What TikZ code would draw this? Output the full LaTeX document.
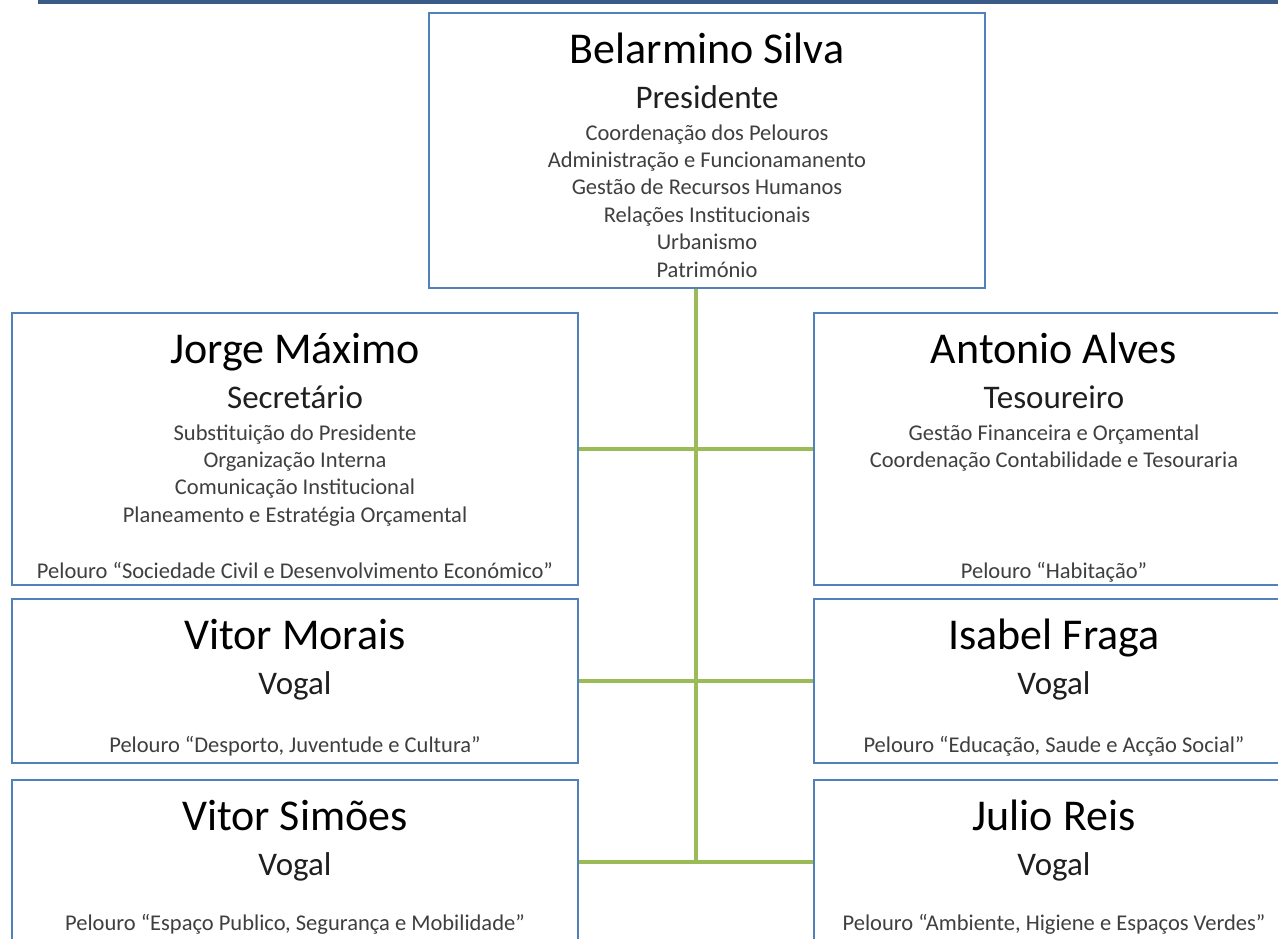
\documentclass[tikz,border=0pt]{standalone}
\usepackage{fontspec}
\setmainfont{Carlito}
\usetikzlibrary{backgrounds}
\definecolor{boxblue}{HTML}{4F81BD}
\definecolor{linegreen}{HTML}{9BBB59}
\definecolor{barblue}{HTML}{3A5A87}
\definecolor{itemgray}{HTML}{3F3F3F}
\definecolor{rolegray}{HTML}{1F1F1F}
\begin{document}
\begin{tikzpicture}[x=1pt,y=-1pt,
  box/.style={draw=boxblue, line width=2.2pt, fill=white, rectangle, inner sep=0pt},
  conn/.style={draw=linegreen, line width=3.6pt},
  pname/.style={anchor=base, inner sep=0pt, text=black, font=\fontsize{44}{50}\selectfont},
  prole/.style={anchor=base, inner sep=0pt, text=rolegray, font=\fontsize{33}{38}\selectfont},
  item/.style={anchor=base, inner sep=0pt, text=itemgray, font=\fontsize{22.5}{27}\selectfont}]
\clip (0,0) rectangle (1278,938);

% boxes
\node[box, minimum width=556pt, minimum height=275pt] (top) at (707,150.5) {};
\node[box, minimum width=566pt, minimum height=272pt] (jorge) at (295,449) {};
\node[box, minimum width=480pt, minimum height=272pt] (antonio) at (1054,449) {};
\node[box, minimum width=566pt, minimum height=164pt] (vmorais) at (295,681) {};
\node[box, minimum width=480pt, minimum height=164pt] (isabel) at (1054,681) {};
\node[box, minimum width=566pt, minimum height=164pt] (vsimoes) at (295,862) {};
\node[box, minimum width=480pt, minimum height=164pt] (julio) at (1054,862) {};

% top box text
\node[pname] (n-top) at (707,63) {Belarmino Silva};
\node[prole] (r-top) at (707,108) {Presidente};
\foreach \t [count=\i] in {Coordenação dos Pelouros,Administração e Funcionamanento,Gestão de Recursos Humanos,Relações Institucionais,Urbanismo,Património}
  \node[item] (i-top-\i) at (707,{140+27.4*(\i-1)}) {\t};

% Jorge
\node[pname] (n-jorge) at (295,363) {Jorge Máximo};
\node[prole] (r-jorge) at (295,408) {Secretário};
\foreach \t [count=\i] in {Substituição do Presidente,Organização Interna,Comunicação Institucional,Planeamento e Estratégia Orçamental}
  \node[item] (i-jorge-\i) at (295,{440+27.4*(\i-1)}) {\t};
\node[item] (p-jorge) at (295,578) {Pelouro “Sociedade Civil e Desenvolvimento Económico”};

% Antonio
\node[pname] (n-antonio) at (1054,363) {Antonio Alves};
\node[prole] (r-antonio) at (1054,408) {Tesoureiro};
\foreach \t [count=\i] in {Gestão Financeira e Orçamental,Coordenação Contabilidade e Tesouraria}
  \node[item] (i-antonio-\i) at (1054,{440+27.4*(\i-1)}) {\t};
\node[item] (p-antonio) at (1054,578) {Pelouro “Habitação”};

% Vitor Morais
\node[pname] (n-vmorais) at (295,649) {Vitor Morais};
\node[prole] (r-vmorais) at (295,694) {Vogal};
\node[item] (p-vmorais) at (295,752) {Pelouro “Desporto, Juventude e Cultura”};

% Isabel
\node[pname] (n-isabel) at (1054,649) {Isabel Fraga};
\node[prole] (r-isabel) at (1054,694) {Vogal};
\node[item] (p-isabel) at (1054,752) {Pelouro “Educação, Saude e Acção Social”};

% Vitor Simoes
\node[pname] (n-vsimoes) at (295,830) {Vitor Simões};
\node[prole] (r-vsimoes) at (295,875) {Vogal};
\node[item] (p-vsimoes) at (295,930) {Pelouro “Espaço Publico, Segurança e Mobilidade”};

% Julio
\node[pname] (n-julio) at (1054,830) {Julio Reis};
\node[prole] (r-julio) at (1054,875) {Vogal};
\node[item] (p-julio) at (1054,930) {Pelouro “Ambiente, Higiene e Espaços Verdes”};

% connectors
\coordinate (trunktop) at (696,288);
\coordinate (trunkbot) at (trunktop |- vsimoes.east);
\begin{pgfonlayer}{background}
  \fill[white] (0,0) rectangle (1278,938);
  \fill[barblue] (38,0) rectangle (1278,4);
  \draw[conn] (trunktop) -- (trunkbot);
  \draw[conn] (jorge.east) -- (antonio.west);
  \draw[conn] (vmorais.east) -- (isabel.west);
  \draw[conn] (vsimoes.east) -- (julio.west);
\end{pgfonlayer}
\end{tikzpicture}
\end{document}
